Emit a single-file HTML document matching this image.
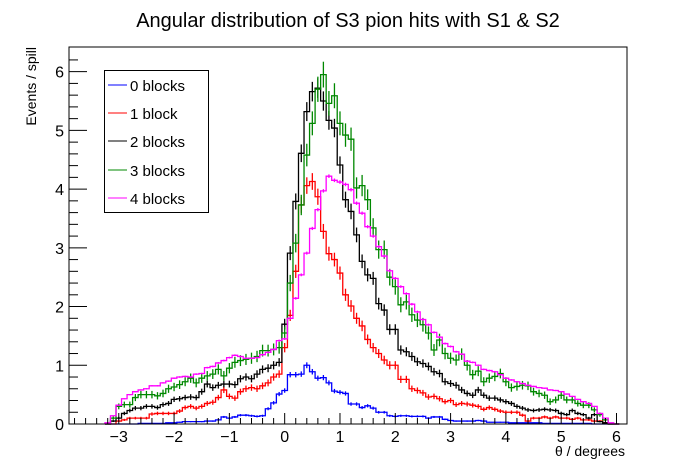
<!DOCTYPE html>
<html><head><meta charset="utf-8"><style>
html,body{margin:0;padding:0;background:#fff;}
svg{display:block;font-family:"Liberation Sans",sans-serif;}
</style></head><body>
<svg id="chart" width="696" height="472" viewBox="0 0 696 472">
<rect width="696" height="472" fill="#fff"/>
<text x="348" y="27" font-size="20" text-anchor="middle">Angular distribution of S3 pion hits with S1 &amp; S2</text>
<g id="marks"></g>
<rect x="69" y="47" width="558" height="377" fill="none" stroke="#000" stroke-width="1"/>
<g id="axes"></g>
<text x="625" y="456" font-size="14" text-anchor="end">θ / degrees</text>
<text transform="translate(36,47) rotate(-90)" font-size="14" text-anchor="end">Events / spill</text>
<g>
<rect x="104.5" y="70.5" width="104" height="142" fill="#fff" stroke="#000"/>
<g><line x1="108" y1="85" x2="127" y2="85" stroke="#0000ff"/><text x="130" y="91" font-size="15">0 blocks</text></g>
<g><line x1="108" y1="113" x2="127" y2="113" stroke="#ff0000"/><text x="130" y="119" font-size="15">1 block</text></g>
<g><line x1="108" y1="141" x2="127" y2="141" stroke="#000"/><text x="130" y="147" font-size="15">2 blocks</text></g>
<g><line x1="108" y1="170" x2="127" y2="170" stroke="#008800"/><text x="130" y="176" font-size="15">3 blocks</text></g>
<g><line x1="108" y1="198" x2="127" y2="198" stroke="#ff00ff"/><text x="130" y="204" font-size="15">4 blocks</text></g>
</g>
</svg>
<script>
// bin centres: -3.2 + 0.1*i, width 0.1
const binStart = -3.2;
const binWidth = 0.1;
const xTicks = [-3,-2,-1,0,1,2,3,4,5,6];
const yTicks = [0,1,2,3,4,5,6];
const blocks0 = [0,0,0,0,0,0,0.01,0.01,0.01,0.01,0.01,
 0.02,0.02,0.03,0.04,0.04,0.04,0.04,0.05,0.05,
 0.07,0.12,0.1,0.12,0.15,0.15,0.14,0.13,
 0.14,0.26,0.36,0.51,0.57,
 0.84,0.84,0.85,1.0,0.89,0.78,0.79,0.7,0.56,0.54,
 0.52,0.34,0.34,0.28,0.31,0.27,0.2,0.2,0.14,0.13,
 0.14,0.14,0.13,0.13,0.13,0.1,0.12,0.12,0.08,0.06,
 0.05,0.05,0.05,0.05,0.06,0.05,0.03,0.03,0.03,0.03,
 0.02,0.02,0.02,0.02,0.02,0.02,0.01,0.01,0.01,0.01,
 0.01,0.01,0.01,0.01,0.01,0,0,0,0,0];
const blocks1 = [0,0,0.05,0.07,0.1,0.1,0.1,0.1,0.17,0.18,0.18,
 0.18,0.18,0.22,0.28,0.3,0.27,0.3,0.35,0.37,
 0.45,0.58,0.47,0.44,0.55,0.6,0.62,0.6,
 0.65,0.7,0.8,0.85,1.3,
 1.85,2.6,3.73,4.06,4.13,3.87,3.28,2.9,2.8,2.57,
 2.2,2.01,1.8,1.67,1.44,1.3,1.2,1.09,1.0,1.0,
 0.76,0.76,0.6,0.57,0.53,0.46,0.47,0.43,0.38,0.4,
 0.33,0.35,0.34,0.32,0.3,0.25,0.28,0.25,0.22,0.2,
 0.2,0.2,0.15,0.05,0.1,0.1,0.12,0.1,0.12,0.1,
 0.1,0.08,0.1,0.07,0.07,0.05,0.05,0.02,0,0];
const blocks2 = [0,0.05,0.1,0.18,0.23,0.27,0.27,0.3,0.3,0.28,0.33,
 0.35,0.42,0.43,0.45,0.46,0.45,0.55,0.68,0.62,
 0.66,0.68,0.68,0.67,0.77,0.8,0.77,0.85,
 0.93,0.95,1.0,1.05,1.7,
 2.91,3.79,4.61,5.32,5.66,5.72,5.5,5.17,5.04,4.41,
 3.82,3.62,3.22,2.77,2.54,2.48,2.05,1.94,1.61,1.61,
 1.26,1.23,1.15,1.06,1.03,0.98,0.89,0.86,0.72,0.69,
 0.66,0.58,0.52,0.49,0.58,0.49,0.44,0.44,0.41,0.38,
 0.35,0.3,0.27,0.24,0.23,0.24,0.25,0.24,0.23,0.18,
 0.16,0.23,0.18,0.16,0.1,0.16,0.04,0.02,0,0];
const blocks3 = [0,0.1,0.3,0.33,0.33,0.45,0.5,0.5,0.5,0.48,0.52,
 0.6,0.63,0.67,0.72,0.78,0.7,0.78,0.82,0.85,
 0.93,0.82,0.95,1.05,1.08,1.1,1.12,1.15,
 1.25,1.25,1.27,1.3,1.55,
 2.4,3.08,3.73,4.58,5.12,5.7,5.95,5.46,5.59,5.12,
 4.92,4.85,4.02,4.06,3.82,3.34,2.97,2.97,2.5,2.34,
 2.03,2.08,1.86,1.77,1.69,1.55,1.26,1.43,1.2,1.12,
 1.09,1.19,1.0,0.84,0.9,0.72,0.78,0.81,0.86,0.72,
 0.62,0.64,0.66,0.65,0.55,0.52,0.49,0.38,0.41,0.49,
 0.41,0.41,0.35,0.32,0.32,0.24,0.16,0.07,0,0];
const blocks4 = [0.02,0.14,0.32,0.43,0.5,0.55,0.58,0.6,0.65,0.65,0.7,
 0.73,0.78,0.8,0.81,0.8,0.85,0.86,0.96,0.98,
 1.04,1.08,1.13,1.17,1.15,1.12,1.12,1.13,
 1.18,1.22,1.27,1.42,1.45,
 1.8,2.14,2.54,2.91,3.33,3.65,3.97,4.22,4.15,4.12,
 4.08,3.99,3.76,3.59,3.36,3.2,3.02,2.86,2.61,2.48,
 2.34,2.22,2.04,1.91,1.78,1.69,1.56,1.48,1.37,1.32,
 1.23,1.19,1.07,1.05,1.0,0.93,0.91,0.89,0.84,0.78,
 0.75,0.72,0.69,0.66,0.64,0.62,0.61,0.58,0.57,0.55,
 0.51,0.47,0.42,0.38,0.35,0.3,0.18,0.1,0.02,0];
const seriesNames = ['0-blocks','1-block','2-blocks','3-blocks','4-blocks'];
const seriesErrK = [0.05,0.07,0.07,0.09,0.015];

const NS='http://www.w3.org/2000/svg';
const X0=69, X1=627, Y0=424, Y1=47;
const xMin=-3.9, xMax=6.19, yMin=0, yMax=6.42;
function xs(v){return X0+(v-xMin)/(xMax-xMin)*(X1-X0);}
function ys(v){return Y0-(v-yMin)/(yMax-yMin)*(Y0-Y1);}
function mk(tag,attrs,parent){const e=document.createElementNS(NS,tag);for(const k in attrs)e.setAttribute(k,attrs[k]);parent.appendChild(e);return e;}

const marks=document.getElementById('marks');
const colors=['#0000ff','#ff0000','#000000','#008800','#ff00ff'];
[blocks0,blocks1,blocks2,blocks3,blocks4].forEach((data,s)=>{
  const g=mk('g',{},marks);
  
  
  let d='M'+xs(binStart-binWidth/2).toFixed(2)+','+ys(0).toFixed(2);
  data.forEach((v,i)=>{
    const c=binStart+binWidth*i;
    const lo=xs(c-binWidth/2), hi=xs(c+binWidth/2), y=ys(v);
    d+=' L'+lo.toFixed(2)+','+y.toFixed(2)+' L'+hi.toFixed(2)+','+y.toFixed(2);
  });
  d+=' L'+xs(binStart+binWidth*(data.length-0.5)).toFixed(2)+','+ys(0).toFixed(2);
  const p=mk('path',{d:d,fill:'none',stroke:colors[s],'stroke-width':1.3},g);
  
  
  data.forEach((v,i)=>{
    if(v<=0) return;
    const c=binStart+binWidth*i;
    const e=seriesErrK[s]*Math.sqrt(v);
    const l=mk('line',{x1:xs(c),x2:xs(c),y1:ys(Math.max(0,v-e)),y2:ys(v+e),stroke:colors[s],'stroke-width':1.3},g);
    
    
  });
});

const axes=document.getElementById('axes');
for(let v=-3.8;v<=6.15;v+=0.2){
  const vv=Math.round(v*10)/10;
  const major=Math.abs(vv-Math.round(vv))<1e-6;
  const t=mk('line',{x1:xs(vv),x2:xs(vv),y1:Y0,y2:Y0-(major?11:6),stroke:'#000'},axes);
  
  
}
xTicks.forEach(v=>{
  const t=mk('text',{x:xs(v),y:442,'font-size':16,'text-anchor':'middle'},axes);
  t.textContent=v<0?'\u2212'+Math.abs(v):String(v);
  
  
});
for(let v=0;v<=6.4;v+=0.2){
  const vv=Math.round(v*10)/10;
  const major=Math.abs(vv-Math.round(vv))<1e-6;
  const t=mk('line',{x1:X0,x2:X0+(major?18:9),y1:ys(vv),y2:ys(vv),stroke:'#000'},axes);
  
  
}
yTicks.forEach(v=>{
  const t=mk('text',{x:64,y:ys(v)+6,'font-size':16,'text-anchor':'end'},axes);
  t.textContent=String(v);
  
  
});
</script>
</body></html>
